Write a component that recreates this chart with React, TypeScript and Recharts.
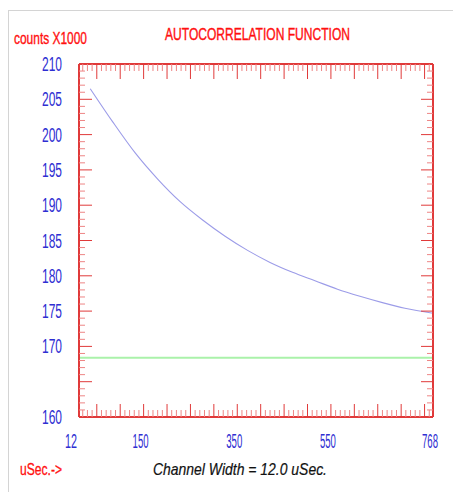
import React from 'react';
import { LineChart, Line, XAxis, YAxis, ReferenceLine } from 'recharts';

// channel time (uSec) and counts (x1000)
const channels = [36, 84, 132, 180, 228, 276, 324, 372, 420, 468, 516, 564, 612, 660, 708, 768];
const counts = [206.5, 201.8, 197.4, 193.7, 190.5, 187.9, 185.6, 183.6, 181.9, 180.5, 179.3, 178.1, 177.1, 176.2, 175.4, 174.7];
const baseline = 168.4;

const xLabels = [12, 150, 350, 550, 768];
const yLabels = [160, 170, 175, 180, 185, 190, 195, 200, 205, 210];

const xTicks = [12, ...Array.from({ length: 75 }, (_, i) => 20 + i * 10), 768];
const yTicks = Array.from({ length: 51 }, (_, i) => 160 + i);

const data = channels.map((c, i) => ({ t: c, v: counts[i] }));

const RED = '#e03a3a';
const RED_LIGHT = '#ee8585';
const BLUE = '#2e2ed2';
const FONT = '"Liberation Sans", Arial, sans-serif';

const BottomTick = (p: any) => {
  const v = p.payload.value;
  const { x, y } = p;
  const major = v % 50 === 0;
  const edge = v === 12 || v === 768;
  const show = xLabels.includes(v);
  const w = String(v).length === 2 ? 12 : 16;
  return (
    <g>
      {!edge && <line x1={x} x2={x} y1={y} y2={y - (major ? 13 : 7)} stroke={major ? RED : RED_LIGHT} />}
      {show && (
        <text x={v === 12 ? x - 2 : x - 3} y={y + 31} textAnchor={v === 12 ? 'end' : 'middle'}
          fontSize={20} fill={BLUE} fontFamily={FONT} textLength={w} lengthAdjust="spacingAndGlyphs">
          {v}
        </text>
      )}
    </g>
  );
};

const TopTick = (p: any) => {
  const v = p.payload.value;
  const { x, y } = p;
  if (v === 12 || v === 768) return <g />;
  const major = v % 50 === 0;
  return <line x1={x} x2={x} y1={y} y2={y + (major ? 15 : 7)} stroke={major ? RED : RED_LIGHT} />;
};

const LeftTick = (p: any) => {
  const v = p.payload.value;
  const { x, y } = p;
  const major = v % 5 === 0;
  const edge = v === 160 || v === 210;
  return (
    <g>
      {!edge && <line x1={x} x2={x + (major ? 13 : 6)} y1={y} y2={y} stroke={major ? RED : RED_LIGHT} />}
      {yLabels.includes(v) && (
        <text x={x - 17} y={y + 7} textAnchor="end" fontSize={20} fill={BLUE} fontFamily={FONT}
          textLength={20} lengthAdjust="spacingAndGlyphs">
          {v}
        </text>
      )}
    </g>
  );
};

const RightTick = (p: any) => {
  const v = p.payload.value;
  const { x, y } = p;
  if (v === 160 || v === 210) return <g />;
  const major = v % 5 === 0;
  return <line x1={x} x2={x - (major ? 12 : 6)} y1={y} y2={y} stroke={major ? RED : RED_LIGHT} />;
};

export default function App() {
  return (
    <div style={{ position: 'relative', width: 453, height: 484, background: '#fff' }}>
      <LineChart width={453} height={480} data={data} margin={{ top: 55, right: 27, left: 21, bottom: 41 }}>
        <XAxis xAxisId="b" dataKey="t" type="number" domain={[12, 768]} ticks={xTicks} interval={0}
          orientation="bottom" height={30} tickSize={0} tickMargin={0} tickLine={false}
          axisLine={{ stroke: RED, strokeWidth: 2 }} tick={BottomTick} allowDataOverflow />
        <XAxis xAxisId="t" dataKey="t" type="number" domain={[12, 768]} ticks={xTicks} interval={0}
          orientation="top" height={1} tickSize={0} tickMargin={0} tickLine={false}
          axisLine={{ stroke: RED, strokeWidth: 2 }} tick={TopTick} allowDataOverflow />
        <YAxis yAxisId="l" type="number" domain={[160, 210]} ticks={yTicks} interval={0}
          orientation="left" width={50} tickSize={0} tickMargin={0} tickLine={false}
          axisLine={{ stroke: RED, strokeWidth: 2 }} tick={LeftTick} allowDataOverflow />
        <YAxis yAxisId="r" type="number" domain={[160, 210]} ticks={yTicks} interval={0}
          orientation="right" width={1} tickSize={0} tickMargin={0} tickLine={false}
          axisLine={{ stroke: RED, strokeWidth: 2 }} tick={RightTick} allowDataOverflow />
        <ReferenceLine xAxisId="b" yAxisId="l" y={baseline} stroke="#aaf2aa" strokeWidth={2} />
        <Line xAxisId="b" yAxisId="l" type="monotone" dataKey="v" stroke="#9c9ce8" strokeWidth={1.1}
          dot={false} isAnimationActive={false} />
      </LineChart>
      <svg width={453} height={484} style={{ position: 'absolute', left: 0, top: 0, pointerEvents: 'none' }}>
        <line x1={0.5} x2={0.5} y1={2} y2={484} stroke="#d4d4d4" />
        <line x1={0} x2={453} y1={2.5} y2={2.5} stroke="#d4d4d4" />
        <text x={6} y={36} fontSize={16} fill="#ff1010" stroke="#ff1010" strokeWidth={0.35} fontFamily={FONT}
          textLength={73} lengthAdjust="spacingAndGlyphs">
          counts X1000
        </text>
        <text x={157} y={32} fontSize={17} fill="#ff1010" stroke="#ff1010" strokeWidth={0.4} fontFamily={FONT}
          textLength={185} lengthAdjust="spacingAndGlyphs">
          AUTOCORRELATION FUNCTION
        </text>
        <text x={145} y={467} fontSize={17} fontStyle="italic" fill="#111" stroke="#111" strokeWidth={0.2} fontFamily={FONT}
          textLength={174} lengthAdjust="spacingAndGlyphs">
          Channel Width = 12.0 uSec.
        </text>
        <text x={12} y={467} fontSize={16} fill="#ff1010" stroke="#ff1010" strokeWidth={0.3} fontFamily={FONT}
          textLength={42} lengthAdjust="spacingAndGlyphs">
          uSec.-&gt;
        </text>
      </svg>
    </div>
  );
}
